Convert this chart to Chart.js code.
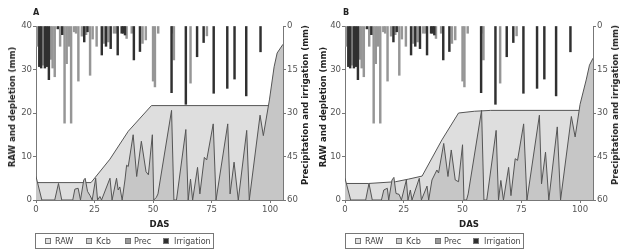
<!DOCTYPE html>
<html><head><meta charset="utf-8">
<script src="https://cdn.jsdelivr.net/npm/chart.js@4.4.0/dist/chart.umd.min.js"></script>
<style>
html,body{margin:0;padding:0;background:#fff;}
#wrap{position:relative;width:624px;height:252px;overflow:hidden;font-family:"Liberation Sans Narrow","Arial Narrow","DejaVu Sans Condensed",sans-serif;}
.cv{position:absolute;top:0;width:312px;height:252px;}
.lab{position:absolute;font-weight:bold;font-size:9px;color:#222;line-height:9px;}
.vt{position:absolute;font-weight:bold;font-size:9.5px;color:#222;white-space:nowrap;transform:translate(-50%,-50%) rotate(-90deg);line-height:10px;}
.leg{position:absolute;top:233px;width:179px;height:16px;border:1px solid #777;box-sizing:border-box;font-size:9px;color:#444;}
.leg .sw{position:absolute;top:4px;width:6px;height:6px;box-sizing:border-box;border:1px solid #777;}
.leg .tx{position:absolute;top:2px;line-height:10px;white-space:nowrap;}
</style></head>
<body><div id="wrap">
<div class="cv" style="left:0"><canvas id="cA" width="312" height="252"></canvas></div>
<div class="cv" style="left:312px"><canvas id="cB" width="312" height="252"></canvas></div>
<div class="lab" style="left:33px;top:8px">A</div>
<div class="lab" style="left:343px;top:8px">B</div>
<div class="vt" style="left:12px;top:107px">RAW and depletion (mm)</div>
<div class="vt" style="left:305px;top:105px">Precipitation and irrigation (mm)</div>
<div class="vt" style="left:323px;top:107px">RAW and depletion (mm)</div>
<div class="vt" style="left:615px;top:105px">Precipitation and irrigation (mm)</div>
<div class="leg" style="left:35px" id="legA"></div>
<div class="leg" style="left:345px" id="legB"></div>
</div>
<script>
// ---- data ----
const xTicks = [0, 25, 50, 75, 100];
const leftTicks = [0, 10, 20, 30, 40];
const rightTicks = [0, 15, 30, 45, 60];
const legendNames = ['RAW', 'Kcb', 'Prec', 'Irrigation'];

// precipitation (DAS, mm)
const precDas = [0.5, 3.0, 6.3, 7.1, 8.0, 10.3, 12.2, 13.1, 14.0, 15.0, 16.3, 17.1, 18.1, 19.6, 21.4, 23.1, 24.2, 25.9, 29.1, 30.9, 33.3, 34.2, 38.7, 40.9, 45.5, 46.9, 50.0, 50.8, 52.2, 58.3, 58.9, 66.0, 73.0];
const precVal = [7, 13.5, 11.5, 14.5, 17.5, 7, 33.5, 13, 7, 33.5, 2, 2.5, 19, 3.5, 3, 17, 4.5, 7, 6, 5.5, 2.5, 2.5, 4.3, 2.5, 6, 4.8, 19, 21, 2.5, 2.5, 11.7, 19.7, 3.4];
// irrigation (DAS, mm)
const irrDas = [1.4, 2.2, 3.8, 4.6, 5.5, 9.3, 11.2, 20.6, 22.0, 28.1, 29.9, 31.9, 34.9, 36.6, 37.3, 38.0, 41.8, 44.4, 57.9, 64.0, 68.8, 71.6, 75.9, 81.7, 84.8, 89.8, 95.9];
const irrVal = [14, 14.5, 14.5, 14, 18.5, 1, 3, 5.5, 2, 10, 7, 7.8, 10, 2.5, 2.5, 3.1, 11.7, 8.8, 23, 27, 10.6, 5.7, 23.2, 21.5, 18.3, 24.1, 8.9];

// Panel A
const rawDasA = [0, 23.5, 31.6, 39.4, 49.3, 105.5];
const rawValA = [4, 4, 9.4, 15.8, 21.7, 21.7];
const depDasA = [0, 2.5, 8, 9.6, 11, 15.7, 16.6, 18, 19, 20.4, 21, 22, 23.1, 24, 25.5, 26.3, 27.3, 28, 31.6, 32.5, 34.4, 35.1, 35.8, 36.8, 38, 38.7, 39.4, 41.5, 43, 45, 47, 48, 49.7, 50.3, 51.4, 52.1, 57.9, 58.9, 60, 64, 65, 66, 66.9, 69, 70, 71.9, 72.9, 75.7, 76.9, 81.9, 82.9, 84.6, 86.4, 90, 91.1, 95.7, 97.1, 99.7, 101.7, 103, 105.5];
const depValA = [5.4, 0, 0, 3.8, 0, 0, 2.5, 2.7, 0, 4.6, 5, 2, 1, 0, 5, 0, 0.8, 0, 5, 0, 5, 2.3, 3, 0, 4.6, 8, 7.7, 15, 5.4, 13.5, 6.5, 5.8, 15, 0, 0.6, 1.4, 20.6, 0, 0, 16.2, 0, 4.8, 0, 7.5, 1.4, 9.8, 9.2, 17.5, 0, 17.5, 1.4, 8.7, 0, 16, 0, 19.5, 14.8, 23, 30.6, 33.8, 35.8];

// Panel B
const rawDasB = [0, 10, 21.5, 27, 32.8, 41.2, 48.3, 55, 62, 105.5];
const rawValB = [3.8, 3.8, 4.2, 4.8, 5.5, 13.8, 20, 20.4, 20.6, 20.6];
const depDasB = [0, 2.4, 8.8, 10.2, 11.6, 15.5, 16.5, 18, 18.6, 20, 20.8, 21.7, 23, 24, 26.1, 26.8, 27.8, 28.5, 31.6, 32.5, 34.9, 35.6, 37, 39.1, 39.8, 42, 43.8, 45.2, 46.9, 48.3, 50, 50.6, 51.7, 52.4, 58.1, 59.1, 60.3, 64.3, 65.3, 66.3, 67.4, 69.6, 70.6, 72.4, 73.4, 76, 77.4, 82.7, 83.6, 85.3, 86.7, 90.3, 91.7, 96.3, 97.9, 100, 102.6, 104, 105.5];
const depValB = [5, 0, 0, 3.8, 0, 0, 2.3, 2.7, 0, 4.6, 5.2, 1.5, 1.3, 0, 4.6, 0, 2.3, 0, 5, 0, 3.2, 0, 4.6, 6.9, 6.2, 13, 5.4, 11.5, 4.6, 4.2, 12.7, 0, 0, 1.4, 20.6, 0, 0, 16, 0, 4.5, 0, 7.5, 1, 9.5, 9.1, 17.5, 0, 19.5, 3.7, 11, 0, 16.8, 0, 19.2, 14.5, 22, 27.6, 31, 32.6];

// ---- styles ----
const F = '"Liberation Sans Narrow","Arial Narrow","DejaVu Sans Condensed",sans-serif';
const COL = {raw:'#dedede', dep:'#c6c6c6', prec:'#969696', irr:'#303030', line:'#555', axis:'#777', tick:'#555'};
const legendColors = ['#e2e2e2', '#cccccc', '#999999', '#303030'];

function pts(xs, ys){ return xs.map((x, i) => ({x: x, y: ys[i]})); }
function fixTicks(arr){ return s => { s.ticks = arr.map(v => ({value: v})); }; }

function axisCommon(){
  return {
    grid:{display:true, drawOnChartArea:false, drawTicks:true, tickLength:3, color:COL.axis, offset:false},
    border:{display:true, color:COL.axis, width:1},
    ticks:{color:COL.tick, font:{family:F, size:9.5}, padding:1, maxRotation:0}
  };
}

function build(id, rawX, rawY, depX, depY, leftW, rightW){
  const xs = axisCommon(), ys = axisCommon(), y2s = axisCommon();
  return new Chart(document.getElementById(id), {
    data:{datasets:[
      {type:'bar', label:'Irrigation', data:pts(irrDas, irrVal), yAxisID:'y2', backgroundColor:COL.irr, barThickness:1.8, grouped:false},
      {type:'bar', label:'Prec', data:pts(precDas, precVal), yAxisID:'y2', backgroundColor:COL.prec, barThickness:1.8, grouped:false},
      {type:'line', label:'Kcb', data:pts(depX, depY), yAxisID:'y', borderColor:COL.line, borderWidth:1, backgroundColor:COL.dep, fill:'origin', pointRadius:0, tension:0},
      {type:'line', label:'RAW', data:pts(rawX, rawY), yAxisID:'y', borderColor:COL.line, borderWidth:1, backgroundColor:COL.raw, fill:'origin', pointRadius:0, tension:0}
    ]},
    options:{
      responsive:false, animation:false, events:[],
      layout:{padding:{top:26, bottom:22, left:0, right:0}},
      plugins:{legend:{display:false}, tooltip:{enabled:false}},
      scales:{
        x:Object.assign(xs, {type:'linear', offset:false, min:0, max:105.5, afterBuildTicks:fixTicks(xTicks), afterFit:s=>{s.height=30;},
          title:{display:true, text:'DAS', color:'#222', font:{family:F, size:9.5, weight:'bold'}, padding:{top:0, bottom:0}}}),
        y:Object.assign(ys, {type:'linear', position:'left', min:0, max:40, afterBuildTicks:fixTicks(leftTicks), afterFit:s=>{s.width=leftW;}}),
        y2:Object.assign(y2s, {type:'linear', position:'right', min:0, max:60, reverse:true, afterBuildTicks:fixTicks(rightTicks), afterFit:s=>{s.width=rightW;}})
      }
    }
  });
}

build('cA', rawDasA, rawValA, depDasA, depValA, 36, 29);
build('cB', rawDasB, rawValB, depDasB, depValB, 33, 31);

function legend(id){
  const el = document.getElementById(id);
  const sq = [9, 50, 89, 127], tx = [19, 60, 98, 138];
  legendNames.forEach((n, i) => {
    const s = document.createElement('span'); s.className = 'sw'; s.style.left = sq[i] + 'px'; s.style.background = legendColors[i];
    const t = document.createElement('span'); t.className = 'tx'; t.style.left = tx[i] + 'px'; t.textContent = n;
    el.appendChild(s); el.appendChild(t);
  });
}
legend('legA'); legend('legB');
</script>
</body></html>
